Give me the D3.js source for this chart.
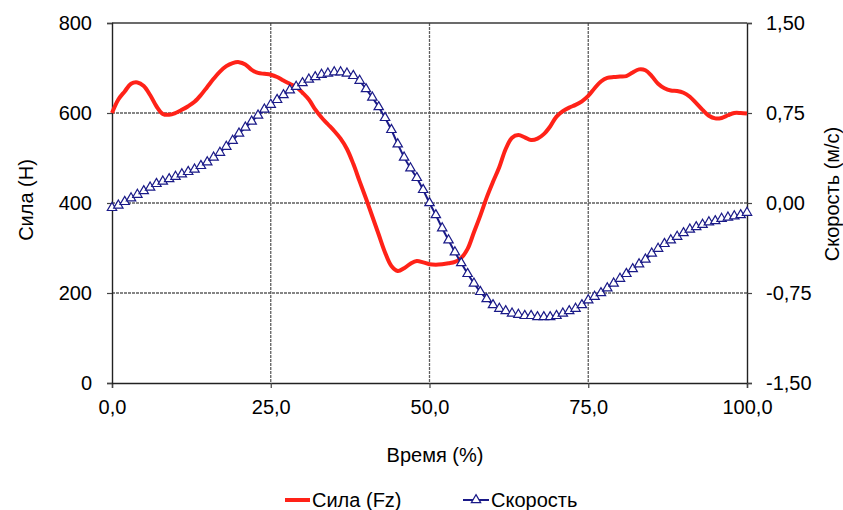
<!DOCTYPE html>
<html>
<head>
<meta charset="utf-8">
<script src="https://cdn.jsdelivr.net/npm/d3@7"></script>
<style>
  body { margin: 0; background: #fff; }
  svg { display: block; font-family: "Liberation Sans", Arial, sans-serif; }
</style>
</head>
<body>
<svg id="chart" width="843" height="510"></svg>
<script>
// Percent of the movement cycle, 0..100 in 1% steps
const timePct = d3.range(0, 101);

// Vertical force Fz, N (left axis)
const force = [
  600, 630, 648, 665, 668, 660, 640, 615, 598, 596,
  600, 607, 615, 625, 640, 658, 676, 692, 704, 711,
  713, 708, 696, 689, 687, 685, 680, 672, 665, 658,
  645, 630, 608, 590, 575, 560, 543, 520, 487, 448,
  410, 370, 330, 290, 260, 249, 255, 265, 271, 268,
  264, 263, 264, 266, 269, 278, 298, 335, 372, 412,
  447, 480, 520, 545, 551, 546, 540, 543, 553, 570,
  592, 604, 612, 618, 626, 638, 655, 670, 678, 680,
  681, 682, 690, 697, 695, 682, 665, 655, 650, 649,
  645, 636, 622, 607, 594, 588, 589, 595, 600, 600,
  599
];

// Velocity, m/s (right axis)
const velocity = [
  -0.04, -0.02, 0.01, 0.04, 0.07, 0.10, 0.13, 0.16, 0.18, 0.20,
  0.22, 0.24, 0.26, 0.28, 0.31, 0.34, 0.38, 0.42, 0.47, 0.52,
  0.58, 0.63, 0.68, 0.73, 0.78, 0.82, 0.86, 0.90, 0.94, 0.97,
  1.00, 1.03, 1.05, 1.07, 1.08, 1.09, 1.09, 1.08, 1.06, 1.02,
  0.95, 0.88, 0.80, 0.71, 0.61, 0.49, 0.38, 0.29, 0.21, 0.11,
  0.00, -0.10, -0.21, -0.31, -0.41, -0.50, -0.59, -0.67, -0.74, -0.80,
  -0.85, -0.88, -0.90, -0.92, -0.93, -0.94, -0.94, -0.95, -0.95, -0.95,
  -0.94, -0.92, -0.90, -0.88, -0.85, -0.81, -0.78, -0.75, -0.71, -0.67,
  -0.63, -0.59, -0.55, -0.51, -0.47, -0.42, -0.38, -0.34, -0.31, -0.28,
  -0.25, -0.22, -0.20, -0.18, -0.16, -0.15, -0.13, -0.12, -0.11, -0.10,
  -0.08
];

const xTicks = [0, 25, 50, 75, 100];
const forceTicks = [0, 200, 400, 600, 800];
const velocityTicks = [-1.5, -0.75, 0, 0.75, 1.5];

const labels = {
  x: "Время (%)",
  yLeft: "Сила (Н)",
  yRight: "Скорость (м/с)",
  force: "Сила (Fz)",
  velocity: "Скорость"
};

const W = 843, H = 510;
const margin = { top: 23, right: 96, bottom: 127, left: 112 };
const iw = W - margin.left - margin.right;
const ih = H - margin.top - margin.bottom;

const RED = "#ff2218";
const NAVY = "#1a1a88";
const fmtComma = (d, n) => d3.format("." + n + "f")(d).replace(".", ",").replace("−", "-");

const svg = d3.select("#chart");
const g = svg.append("g").attr("transform", `translate(${margin.left},${margin.top})`);

const x = d3.scaleLinear().domain([0, 100]).range([0, iw]);
const yL = d3.scaleLinear().domain([0, 800]).range([ih, 0]);
const yR = d3.scaleLinear().domain([-1.5, 1.5]).range([ih, 0]);

// Grid
const grid = g.append("g").attr("stroke", "#5e5e5e").attr("stroke-width", 1.3).attr("stroke-dasharray", "3,1");
grid.selectAll(".hg").data(forceTicks.filter(d => d > 0 && d < 800)).join("line")
  .attr("x1", 0).attr("x2", iw).attr("y1", d => yL(d)).attr("y2", d => yL(d));
grid.selectAll(".vg").data(xTicks.filter(d => d > 0 && d < 100)).join("line")
  .attr("y1", 0).attr("y2", ih).attr("x1", d => x(d)).attr("x2", d => x(d));
// top border
g.append("line").attr("x1", 0).attr("x2", iw).attr("y1", 0).attr("y2", 0)
  .attr("stroke", "#3a3a3a").attr("stroke-width", 1.3);

// Axes
const styleAxis = sel => {
  sel.select(".domain").attr("stroke", "#222").attr("stroke-width", 1.4);
  sel.selectAll(".tick line").attr("stroke", "#444").attr("stroke-width", 1.2);
  sel.selectAll("text").attr("fill", "#000").style("font-size", "20px")
    .style("font-family", '"Liberation Sans", Arial, sans-serif');
};

g.append("g").attr("transform", `translate(0,${ih})`)
  .call(d3.axisBottom(x).tickValues(xTicks).tickSize(5).tickPadding(12).tickFormat(d => fmtComma(d, 1)))
  .call(styleAxis);

g.append("g")
  .call(d3.axisLeft(yL).tickValues(forceTicks).tickSize(5).tickPadding(15).tickFormat(d3.format("d")))
  .call(styleAxis);

g.append("g").attr("transform", `translate(${iw},0)`)
  .call(d3.axisRight(yR).tickValues(velocityTicks).tickSize(5).tickPadding(14).tickFormat(d => fmtComma(d, 2)))
  .call(styleAxis);

// Force line
const forceLine = d3.line().x((d, i) => x(timePct[i])).y(d => yL(d)).curve(d3.curveCatmullRom);
g.append("path").datum(force).attr("d", forceLine)
  .attr("fill", "none").attr("stroke", RED).attr("stroke-width", 4).attr("stroke-linejoin", "round");

// Velocity line with triangle markers
const velLine = d3.line().x((d, i) => x(timePct[i])).y(d => yR(d));
g.append("path").datum(velocity).attr("d", velLine)
  .attr("fill", "none").attr("stroke", NAVY).attr("stroke-width", 2);
const tri = d3.symbol().type(d3.symbolTriangle).size(38);
g.selectAll(".vm").data(velocity).join("path")
  .attr("d", tri)
  .attr("transform", (d, i) => `translate(${x(timePct[i])},${yR(d)})`)
  .attr("fill", "#fff").attr("stroke", NAVY).attr("stroke-width", 1.2);

// Axis titles
const txt = (sx, sy, s, rot) => svg.append("text")
  .attr("transform", `translate(${sx},${sy})` + (rot ? ` rotate(${rot})` : ""))
  .attr("text-anchor", "middle").attr("dominant-baseline", "central")
  .style("font-size", "20px").attr("fill", "#000").text(s);

txt(435, 455, labels.x);
txt(26, 200, labels.yLeft, -90);
txt(832, 194, labels.yRight, -90);

// Legend
const lg = svg.append("g").attr("transform", "translate(0,500)");
lg.append("line").attr("x1", 285).attr("x2", 310).attr("y1", 0).attr("y2", 0)
  .attr("stroke", RED).attr("stroke-width", 4);
lg.append("text").attr("x", 312).attr("y", 0).attr("dominant-baseline", "central")
  .style("font-size", "20px").text(labels.force);
lg.append("line").attr("x1", 463).attr("x2", 489).attr("y1", 0).attr("y2", 0)
  .attr("stroke", NAVY).attr("stroke-width", 2);
lg.append("path").attr("d", tri).attr("transform", "translate(476,0)")
  .attr("fill", "#fff").attr("stroke", NAVY).attr("stroke-width", 1.2);
lg.append("text").attr("x", 491).attr("y", 0).attr("dominant-baseline", "central")
  .style("font-size", "20px").text(labels.velocity);
</script>
</body>
</html>
